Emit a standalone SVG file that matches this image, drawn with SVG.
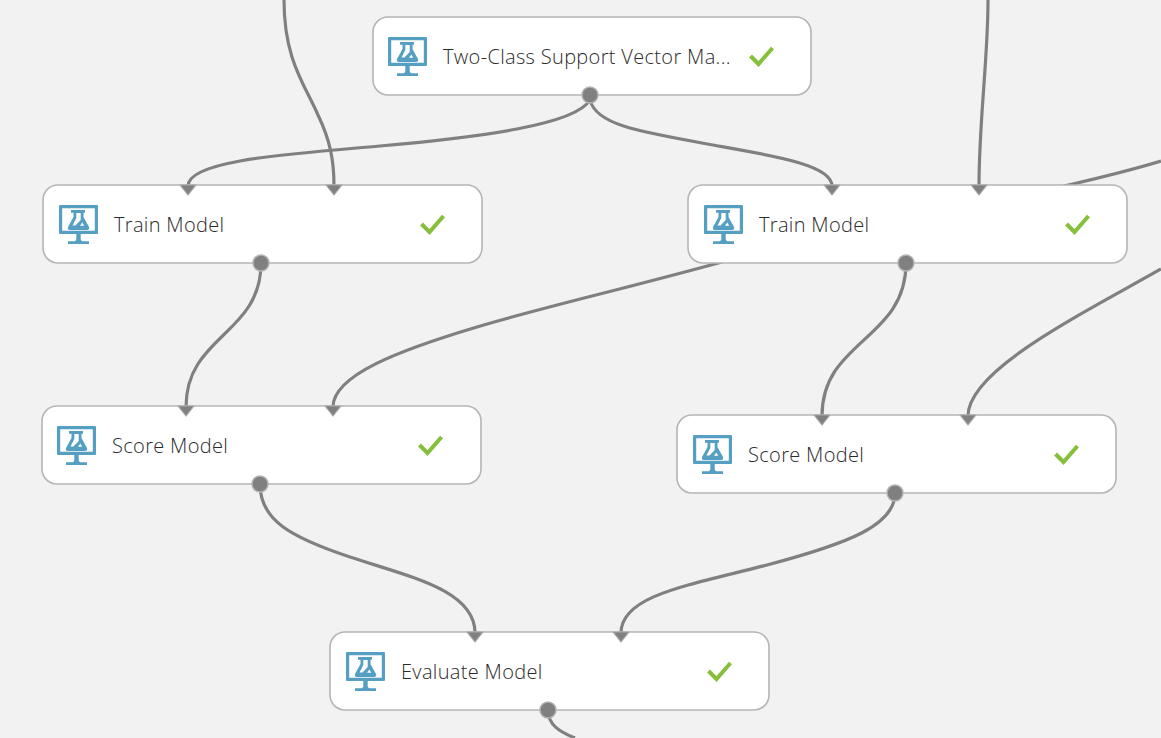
<svg xmlns="http://www.w3.org/2000/svg" width="1161" height="738" viewBox="0 0 1161 738">
<style>
.bg{fill:#f2f2f2}
.box{fill:#fff;stroke:#b5b5b5;stroke-width:1.6}
.lbl{font-family:"Open Sans","Noto Sans","Liberation Sans",sans-serif;font-weight:300;font-size:20px;letter-spacing:.33px;fill:#2b2b2b}
.chk{fill:none;stroke:#86bf3b;stroke-width:4}
.wire{fill:none;stroke:#808080;stroke-width:3.2}
.in{fill:#808080;stroke:#a8a8a8;stroke-width:1.2;stroke-linejoin:round}
.out{fill:#808080;stroke:#b3b3b3;stroke-width:1.5}
</style>
<defs>
<g id="icon">
<path fill="#55a0c2" fill-rule="evenodd" d="M1 0H38Q39 0 39 1V28Q39 29 38 29H1Q0 29 0 28V1Q0 0 1 0ZM3.200 3.200V25.800H35.800V3.200Z"/>
<path fill="#55a0c2" d="M17.300 29H21.700V34Q21.700 36.300 25 36.300H30V39H9V36.300H14Q17.300 36.300 17.300 34Z"/>
<path fill="#55a0c2" fill-rule="evenodd" d="M12 5H26V7.700H24.500V12L30 22Q30.800 25 28 25H11Q8.200 25 9 22L14.500 12V7.700H12ZM17.300 8V13L13.500 20.500H16.500L21.700 15V8ZM23.300 17.500L21 20.800H25.200Z"/>
</g>
<path id="tick" class="chk" d="M-11.500 0L-3.500 8L10.500 -8"/>
<path id="inp" class="in" d="M-8 -2H8L0 8Z"/>
</defs>
<rect class="bg" width="1161" height="738"/>
<g id="connectors">
<path class="wire" d="M284 0C284 60 305 85 318 115C330 140 334 160 334 186"/>
<path class="wire" d="M590 100C575 125 480 137 380 146C290 154 188 160 188 186"/>
<path class="wire" d="M590 100C596 125 640 132 713 145C775 156 832 165 832 186"/>
<path class="wire" d="M988 0C988 60 979 120 979 186"/>
<path class="wire" d="M1161 161C1125 172 1090 180 1060 187"/>
<path class="wire" d="M261 263C261 335 186 335 186 407"/>
<path class="wire" d="M722 262C620 290 540 308 477 327C400 350 333 375 333 407"/>
<path class="wire" d="M906 263C906 340 822 340 822 416"/>
<path class="wire" d="M1161 269C1080 315 968 370 968 416"/>
<path class="wire" d="M260 484C260 520 290 537 350 557C410 577 475 590 475 633"/>
<path class="wire" d="M895 493C895 525 850 543 767 565C690 585 621 595 621 633"/>
<path class="wire" d="M548 710C548 725 560 732 575 738"/>
</g>
<g id="node-svm">
<rect class="box" x="373" y="17" width="438" height="78" rx="15"/>
<use href="#icon" x="388" y="37"/>
<text class="lbl" x="443" y="64">Two-Class Support Vector Ma...</text>
<use href="#tick" x="762" y="56"/>
<circle class="out" cx="590" cy="95" r="8"/>
</g>
<g id="node-train-left">
<rect class="box" x="43" y="185" width="439" height="78" rx="15"/>
<use href="#icon" x="59" y="205"/>
<text class="lbl" x="114" y="232">Train Model</text>
<use href="#tick" x="433" y="224"/>
<use href="#inp" x="188" y="187"/>
<use href="#inp" x="334" y="187"/>
<circle class="out" cx="261" cy="263" r="8"/>
</g>
<g id="node-train-right">
<rect class="box" x="688" y="185" width="439" height="78" rx="15"/>
<use href="#icon" x="704" y="205"/>
<text class="lbl" x="759" y="232">Train Model</text>
<use href="#tick" x="1078" y="224"/>
<use href="#inp" x="832" y="187"/>
<use href="#inp" x="979" y="187"/>
<circle class="out" cx="906" cy="263" r="8"/>
</g>
<g id="node-score-left">
<rect class="box" x="42" y="406" width="439" height="78" rx="15"/>
<use href="#icon" x="57" y="426"/>
<text class="lbl" x="112" y="453">Score Model</text>
<use href="#tick" x="431" y="445"/>
<use href="#inp" x="186" y="408"/>
<use href="#inp" x="333" y="408"/>
<circle class="out" cx="260" cy="484" r="8"/>
</g>
<g id="node-score-right">
<rect class="box" x="677" y="415" width="439" height="78" rx="15"/>
<use href="#icon" x="693" y="435"/>
<text class="lbl" x="748" y="462">Score Model</text>
<use href="#tick" x="1067" y="454"/>
<use href="#inp" x="822" y="417"/>
<use href="#inp" x="968" y="417"/>
<circle class="out" cx="895" cy="493" r="8"/>
</g>
<g id="node-evaluate">
<rect class="box" x="330" y="632" width="439" height="78" rx="15"/>
<use href="#icon" x="346" y="652"/>
<text class="lbl" x="401" y="679">Evaluate Model</text>
<use href="#tick" x="720" y="671"/>
<use href="#inp" x="475" y="634"/>
<use href="#inp" x="621" y="634"/>
<circle class="out" cx="548" cy="710" r="8"/>
</g>
</svg>
